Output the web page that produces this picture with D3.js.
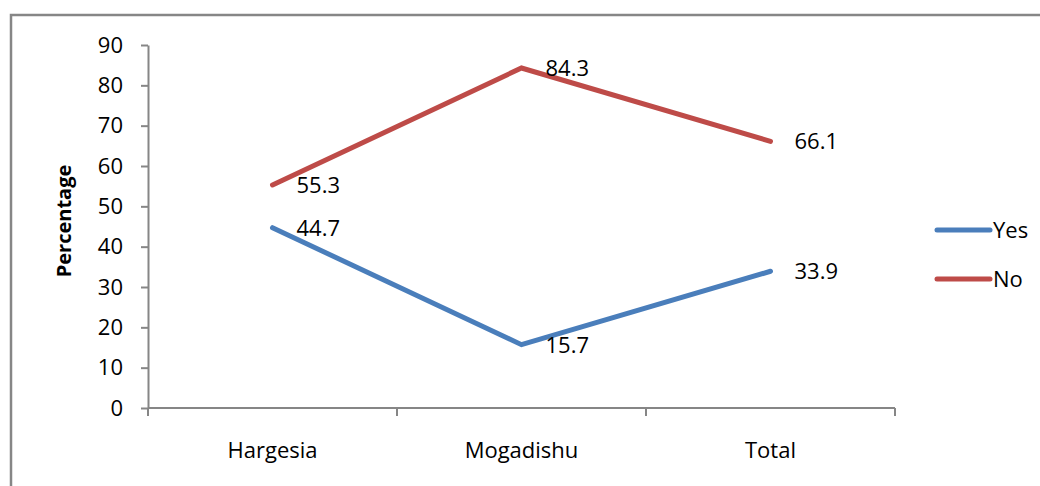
<!DOCTYPE html>
<html>
<head>
<meta charset="utf-8">
<script src="https://cdn.jsdelivr.net/npm/d3@7"></script>
<style>
  html, body { margin: 0; padding: 0; background: #fff; }
  svg { display: block; font-family: "Open Sans", sans-serif; }
</style>
</head>
<body>
<svg id="chart" width="1040" height="486"></svg>
<script>
// Share of respondents answering Yes / No, by location
const categories = ["Hargesia", "Mogadishu", "Total"];
const yesValues = [44.7, 15.7, 33.9];
const noValues = [55.3, 84.3, 66.1];
const yTicks = [0, 10, 20, 30, 40, 50, 60, 70, 80, 90];
const seriesNames = ["Yes", "No"];
const seriesColors = ["#4a7ebb", "#be4b48"];

const svg = d3.select("#chart");
const axisColor = "#868686";

// outer frame (top and left edges)
svg.append("path")
  .attr("d", "M11,486 V15 H1040")
  .attr("fill", "none")
  .attr("stroke", axisColor)
  .attr("stroke-width", 2.5);

const x = d3.scaleBand().domain(categories).range([148, 895]).padding(0);
const y = d3.scaleLinear().domain([0, 90]).range([408, 45]);
const cx = d => x(d) + x.bandwidth() / 2;

// y axis
const yAxis = svg.append("g")
  .attr("transform", "translate(148,0)")
  .call(d3.axisLeft(y).tickValues(yTicks).tickSize(7).tickPadding(18).tickSizeOuter(0));
yAxis.select(".domain").attr("stroke", axisColor).attr("stroke-width", 2);
yAxis.selectAll(".tick line").attr("stroke", axisColor).attr("stroke-width", 2);
yAxis.selectAll(".tick text").attr("font-size", 22).attr("fill", "#000")
  .attr("font-family", "Open Sans, sans-serif");

// x axis: baseline with ticks at category boundaries
const xAxis = svg.append("g");
xAxis.append("line")
  .attr("x1", x.range()[0]).attr("x2", x.range()[1])
  .attr("y1", y(0)).attr("y2", y(0))
  .attr("stroke", axisColor).attr("stroke-width", 2);
const edges = categories.map(d => x(d)).concat([x.range()[1]]);
xAxis.selectAll(".xtick").data(edges).join("line")
  .attr("x1", d => d).attr("x2", d => d)
  .attr("y1", y(0)).attr("y2", y(0) + 8)
  .attr("stroke", axisColor).attr("stroke-width", 2);
xAxis.selectAll(".xlabel").data(categories).join("text")
  .attr("x", d => cx(d)).attr("y", 458)
  .attr("text-anchor", "middle")
  .attr("font-size", 22)
  .text(d => d);

// y axis title
svg.append("text")
  .attr("transform", "translate(71,221) rotate(-90)")
  .attr("text-anchor", "middle")
  .attr("font-size", 20)
  .attr("font-weight", "bold")
  .text("Percentage");

// lines and value labels
const series = [yesValues, noValues];
const line = d3.line().x((d, i) => cx(categories[i])).y(d => y(d));
series.forEach((vals, s) => {
  svg.append("path")
    .datum(vals)
    .attr("d", line)
    .attr("fill", "none")
    .attr("stroke", seriesColors[s])
    .attr("stroke-width", 5)
    .attr("stroke-linecap", "round")
    .attr("stroke-linejoin", "miter");
  svg.selectAll(".lbl" + s).data(vals).join("text")
    .attr("x", (d, i) => cx(categories[i]) + 24)
    .attr("y", d => y(d))
    .attr("dy", "0.36em")
    .attr("font-size", 22)
    .text(d => d.toFixed(1));
});

// legend
const legend = svg.append("g");
seriesNames.forEach((name, i) => {
  const ly = 230 + i * 49;
  legend.append("line")
    .attr("x1", 937).attr("x2", 990)
    .attr("y1", ly).attr("y2", ly)
    .attr("stroke", seriesColors[i])
    .attr("stroke-width", 5)
    .attr("stroke-linecap", "round");
  legend.append("text")
    .attr("x", 993).attr("y", ly)
    .attr("dy", "0.36em")
    .attr("font-size", 22)
    .text(name);
});
</script>
</body>
</html>
